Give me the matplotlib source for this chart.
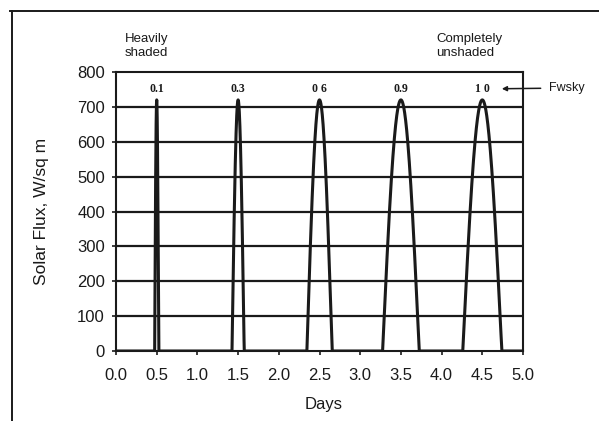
import numpy as np
import matplotlib
matplotlib.use("Agg")
import matplotlib.pyplot as plt
from matplotlib.lines import Line2D

plt.rcParams['font.family'] = ['Liberation Sans', 'DejaVu Sans']

# Daily solar flux arches for increasing sky-view fraction
fwsky = [0.1, 0.3, 0.6, 0.9, 1.0]
fwsky_labels = ["0.1", "0.3", "0 6", "0.9", "1 0"]
noon_day = [0.5, 1.5, 2.5, 3.5, 4.5]
sunlit_span = [0.05, 0.15, 0.31, 0.45, 0.48]   # days of direct sun
peak_flux = 720.0

x_ticks = [0.0, 0.5, 1.0, 1.5, 2.0, 2.5, 3.0, 3.5, 4.0, 4.5, 5.0]
y_ticks = [0, 100, 200, 300, 400, 500, 600, 700, 800]

ink = '#1a1a1a'
fig = plt.figure(figsize=(5.99, 4.21), dpi=100)
ax = fig.add_axes([116 / 599, 1 - 351 / 421, 407 / 599, 279 / 421])

# gridlines
for yv in y_ticks[1:-1]:
    ax.axhline(yv, color=ink, lw=1.6, zorder=1)

# build the flux time series from the arches
t = np.linspace(0, 5, 5001)
flux = np.zeros_like(t)
for c, w in zip(noon_day, sunlit_span):
    m = np.abs(t - c) <= w / 2
    flux[m] = peak_flux * np.sin(np.pi * (t[m] - (c - w / 2)) / w)
ax.plot(t, flux, color=ink, lw=2.2, zorder=3, solid_joinstyle='round')

ax.set_xlim(0, 5)
ax.set_ylim(0, 800)
ax.set_xticks(x_ticks)
ax.set_xticklabels([f"{v:.1f}" for v in x_ticks])
ax.set_yticks(y_ticks)
ax.tick_params(axis='both', direction='out', length=3, width=1.2,
               labelsize=12, colors=ink)
ax.tick_params(axis='x', pad=9)
ax.tick_params(axis='y', pad=5)
for s in ax.spines.values():
    s.set_linewidth(1.5)
    s.set_color(ink)

ax.set_xlabel("Days", fontsize=12, color=ink, va='center')
ax.xaxis.set_label_coords(0.51, -(404 - 351) / 279)
ax.set_ylabel("Solar Flux, W/sq m", fontsize=12.5, color=ink, va='center')
ax.yaxis.set_label_coords(-(116 - 42) / 407, 0.5)

# sky-view fraction labels above each arch
for c, lab in zip(noon_day, fwsky_labels):
    ax.text(c, 750, lab, ha='center', va='center', fontsize=8.5,
            family=['Liberation Serif', 'DejaVu Serif'], fontweight='bold',
            color=ink)

ax.annotate("Fwsky", xy=(4.74, 752), xycoords='data',
            xytext=(549, 421 - 88), textcoords='figure pixels',
            ha='left', va='center', fontsize=9, color=ink,
            arrowprops=dict(arrowstyle='-|>', color=ink, lw=1.1,
                            mutation_scale=7, shrinkA=4, shrinkB=0),
            annotation_clip=False)

fig.text(125 / 599, 1 - 46 / 421, "Heavily\nshaded", ha='left', va='center',
         fontsize=9.5, color=ink, linespacing=1.3)
fig.text(436 / 599, 1 - 46 / 421, "Completely\nunshaded", ha='left', va='center',
         fontsize=9.5, color=ink, linespacing=1.3)

# outer frame edges
fig.add_artist(Line2D([10 / 599, 1.0], [1 - 11 / 421, 1 - 11 / 421],
                      transform=fig.transFigure, color=ink, lw=1.4))
fig.add_artist(Line2D([12 / 599, 12 / 599], [0.0, 1 - 11 / 421],
                      transform=fig.transFigure, color=ink, lw=1.4))

fig.savefig("out.png", dpi=100)
